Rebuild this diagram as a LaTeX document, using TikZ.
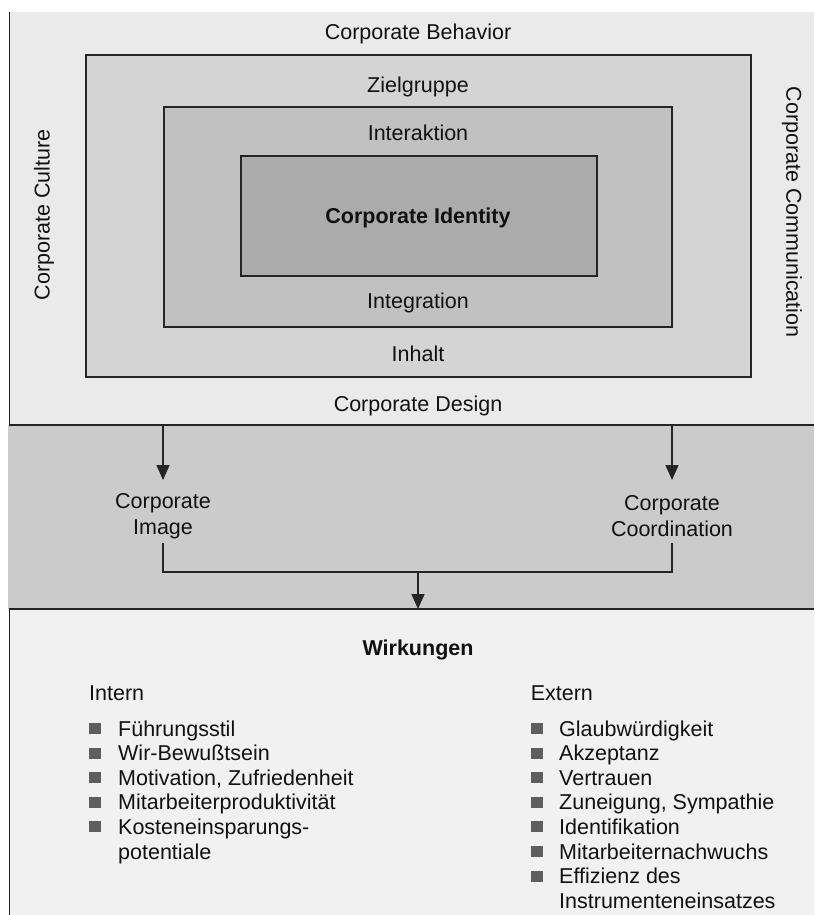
\documentclass[tikz,border=0pt]{standalone}
\usepackage{fontspec}
\setmainfont{Liberation Sans}
\usetikzlibrary{arrows.meta}
\definecolor{panelA}{HTML}{EAEAEA}
\definecolor{panelB}{HTML}{CBCBCB}
\definecolor{panelC}{HTML}{F1F1F1}
\definecolor{boxA}{HTML}{D4D4D4}
\definecolor{boxB}{HTML}{C1C1C1}
\definecolor{boxC}{HTML}{ABABAB}
\definecolor{lineC}{HTML}{252525}
\definecolor{textC}{HTML}{111111}
\definecolor{bulC}{HTML}{5E5E5E}
\begin{document}
\begin{tikzpicture}[x=1pt,y=-1pt,
  lbl/.style={font=\fontsize{21.5}{26}\selectfont, text=textC, inner sep=0pt, align=center},
  blbl/.style={lbl, font=\fontsize{21.5}{26}\selectfont\bfseries},
  item/.style={lbl, anchor=base west, align=left},
  frame/.style={draw=lineC, line width=1.7pt},
  boxnode/.style={frame, inner sep=0pt, rectangle},
  conn/.style={draw=lineC, line width=1.7pt},
  arr/.style={conn, -{Triangle[width=13pt,length=15pt]}},
  bul/.style={fill=bulC, minimum width=11.5pt, minimum height=11pt, inner sep=0pt, rectangle}]
\useasboundingbox (0,0) rectangle (814,915);
\fill[white] (0,0) rectangle (814,915);
% panels
\fill[panelA] (9.5,12) rectangle (814,425);
\fill[panelB] (8,425) rectangle (814,609);
\fill[panelC] (9.5,609) rectangle (814,915);
\draw[frame] (9.5,12) -- (9.5,425) -- (814,425);
\draw[frame] (9.5,915) -- (9.5,609) -- (814,609);
% nested boxes
\node[boxnode, fill=boxA, minimum width=665pt, minimum height=322pt] (b1) at (418.5,216) {};
\node[boxnode, fill=boxB, minimum width=508pt, minimum height=220pt] (b2) at (418,217) {};
\node[boxnode, fill=boxC, minimum width=356pt, minimum height=120pt] (b3) at (419,216) {};
% labels top panel
\node[lbl, anchor=base] (behav) at (418,40) {Corporate Behavior};
\node[lbl, anchor=base] (ziel) at (418,93) {Zielgruppe};
\node[lbl, anchor=base] (inter) at (418,140) {Interaktion};
\node[blbl, anchor=base] (ci) at (418,223) {Corporate Identity};
\node[lbl, anchor=base] (integ) at (418,308) {Integration};
\node[lbl, anchor=base] (inh) at (418,361) {Inhalt};
\node[lbl, anchor=base] (design) at (418,411) {Corporate Design};
\node[lbl, rotate=90] (culture) at (44,215) {Corporate Culture};
\node[lbl, rotate=-90] (comm) at (792,212) {Corporate Communication};
% middle panel
\coordinate (s1) at (163,425);
\coordinate (s2) at (672,425);
\coordinate (t1) at (163,480);
\coordinate (t2) at (672,480);
\node[lbl] (img) at (163,516) {Corporate\\Image};
\node[lbl] (coord) at (672,516) {Corporate\\Coordination};
\coordinate (u1) at (163,543);
\coordinate (u2) at (672,543);
\coordinate (j) at (418,572);
\coordinate (w) at (418,609);
\draw[arr] (s1) -- (t1);
\draw[arr] (s2) -- (t2);
\draw[conn] (u1) |- (j) -| (u2);
\draw[arr] (j) -- (w);
% bottom panel
\node[blbl, anchor=base] (wirk) at (418,655) {Wirkungen};
\node[item] (intern) at (89,700) {Intern};
\node[item] (extern) at (530.6,700) {Extern};
% intern items
\node[item] (i1) at (118,736) {Führungsstil};
\node[item] (i2) at (118,760.6) {Wir-Bewußtsein};
\node[item] (i3) at (118,785.2) {Motivation, Zufriedenheit};
\node[item] (i4) at (118,809.8) {Mitarbeiterproduktivität};
\node[item] (i5) at (118,834.4) {Kosteneinsparungs-};
\node[item] (i5b) at (118,859) {potentiale};
\foreach \n/\y in {1/736,2/760.6,3/785.2,4/809.8,5/834.4}
  \node[bul] (ib\n) at (95,\y-7.5) {};
% extern items
\node[item] (e1) at (559,736) {Glaubwürdigkeit};
\node[item] (e2) at (559,760.6) {Akzeptanz};
\node[item] (e3) at (559,785.2) {Vertrauen};
\node[item] (e4) at (559,809.8) {Zuneigung, Sympathie};
\node[item] (e5) at (559,834.4) {Identifikation};
\node[item] (e6) at (559,859) {Mitarbeiternachwuchs};
\node[item] (e7) at (559,883.6) {Effizienz des};
\node[item] (e7b) at (559,908.2) {Instrumenteneinsatzes};
\foreach \n/\y in {1/736,2/760.6,3/785.2,4/809.8,5/834.4,6/859,7/883.6}
  \node[bul] (eb\n) at (537,\y-7.5) {};
\end{tikzpicture}
\end{document}
